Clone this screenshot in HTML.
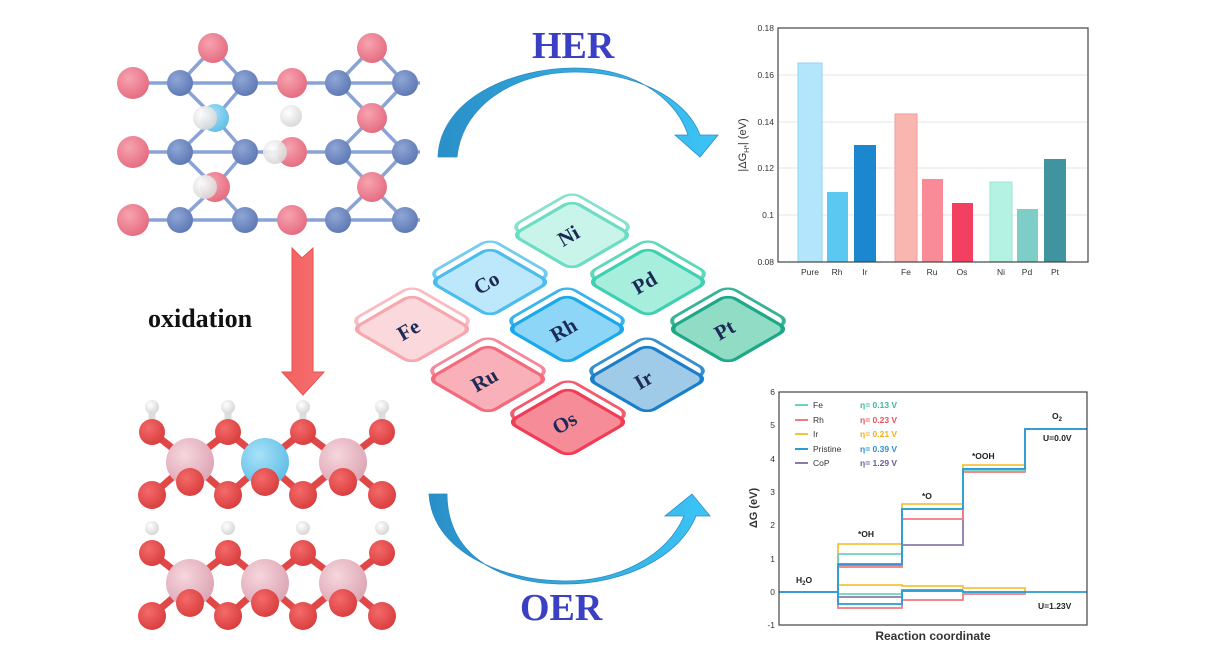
<!DOCTYPE html>
<html><head><meta charset="utf-8"><style>
html,body{margin:0;padding:0;background:#fff}
svg{display:block}
.sans{font-family:"Liberation Sans",sans-serif}
.ser{font-family:"Liberation Serif",serif;font-weight:bold}
</style></head><body>
<svg width="1218" height="659" viewBox="0 0 1218 659" xmlns="http://www.w3.org/2000/svg">
<defs>
<radialGradient id="gp" cx="0.38" cy="0.35" r="0.7"><stop offset="0" stop-color="#f7a3b0"/><stop offset="1" stop-color="#e46a7e"/></radialGradient>
<radialGradient id="gb" cx="0.38" cy="0.35" r="0.7"><stop offset="0" stop-color="#8fa6d6"/><stop offset="1" stop-color="#5c77b3"/></radialGradient>
<radialGradient id="gc" cx="0.38" cy="0.35" r="0.7"><stop offset="0" stop-color="#a8e2f8"/><stop offset="1" stop-color="#5fbde6"/></radialGradient>
<radialGradient id="gw" cx="0.38" cy="0.35" r="0.7"><stop offset="0" stop-color="#ffffff"/><stop offset="1" stop-color="#d4d4d4"/></radialGradient>
<radialGradient id="gr" cx="0.38" cy="0.35" r="0.7"><stop offset="0" stop-color="#f46a6a"/><stop offset="1" stop-color="#d83c3c"/></radialGradient>
<radialGradient id="gl" cx="0.38" cy="0.35" r="0.7"><stop offset="0" stop-color="#f6d6de"/><stop offset="1" stop-color="#dca4b2"/></radialGradient>
<linearGradient id="ab" x1="0" y1="0" x2="1" y2="0"><stop offset="0" stop-color="#2a8fc8"/><stop offset="1" stop-color="#3cc4f6"/></linearGradient>
<linearGradient id="ar" x1="0" y1="0" x2="1" y2="0"><stop offset="0" stop-color="#f36060"/><stop offset="1" stop-color="#f57070"/></linearGradient>
</defs>

<g stroke="#8aa3d6" stroke-width="3.5">
<line x1="118" y1="83" x2="420" y2="83"/><line x1="118" y1="152" x2="420" y2="152"/><line x1="118" y1="220" x2="420" y2="220"/>
<line x1="213" y1="48" x2="180" y2="83"/><line x1="213" y1="48" x2="245" y2="83"/>
<line x1="372" y1="48" x2="338" y2="83"/><line x1="372" y1="48" x2="405" y2="83"/>
<line x1="215" y1="118" x2="180" y2="83"/><line x1="215" y1="118" x2="245" y2="83"/><line x1="215" y1="118" x2="180" y2="152"/><line x1="215" y1="118" x2="245" y2="152"/>
<line x1="372" y1="118" x2="338" y2="83"/><line x1="372" y1="118" x2="405" y2="83"/><line x1="372" y1="118" x2="338" y2="152"/><line x1="372" y1="118" x2="405" y2="152"/>
<line x1="215" y1="187" x2="180" y2="152"/><line x1="215" y1="187" x2="245" y2="152"/><line x1="215" y1="187" x2="180" y2="220"/><line x1="215" y1="187" x2="245" y2="220"/>
<line x1="372" y1="187" x2="338" y2="152"/><line x1="372" y1="187" x2="405" y2="152"/><line x1="372" y1="187" x2="338" y2="220"/><line x1="372" y1="187" x2="405" y2="220"/>
<line x1="213" y1="48" x2="204" y2="38"/><line x1="213" y1="48" x2="222" y2="38"/><line x1="372" y1="48" x2="363" y2="38"/><line x1="372" y1="48" x2="381" y2="38"/>
<line x1="180" y1="220" x2="188" y2="229"/><line x1="338" y1="220" x2="346" y2="229"/><line x1="405" y1="220" x2="397" y2="229"/>
</g>
<g>
<circle cx="213" cy="48" r="15" fill="url(#gp)"/><circle cx="372" cy="48" r="15" fill="url(#gp)"/>
<circle cx="133" cy="83" r="16" fill="url(#gp)"/><circle cx="180" cy="83" r="13" fill="url(#gb)"/><circle cx="245" cy="83" r="13" fill="url(#gb)"/><circle cx="292" cy="83" r="15" fill="url(#gp)"/><circle cx="338" cy="83" r="13" fill="url(#gb)"/><circle cx="405" cy="83" r="13" fill="url(#gb)"/>
<circle cx="215" cy="118" r="14" fill="url(#gc)"/><circle cx="372" cy="118" r="15" fill="url(#gp)"/>
<circle cx="133" cy="152" r="16" fill="url(#gp)"/><circle cx="180" cy="152" r="13" fill="url(#gb)"/><circle cx="245" cy="152" r="13" fill="url(#gb)"/><circle cx="292" cy="152" r="15" fill="url(#gp)"/><circle cx="338" cy="152" r="13" fill="url(#gb)"/><circle cx="405" cy="152" r="13" fill="url(#gb)"/>
<circle cx="215" cy="187" r="15" fill="url(#gp)"/><circle cx="372" cy="187" r="15" fill="url(#gp)"/>
<circle cx="133" cy="220" r="16" fill="url(#gp)"/><circle cx="180" cy="220" r="13" fill="url(#gb)"/><circle cx="245" cy="220" r="13" fill="url(#gb)"/><circle cx="292" cy="220" r="15" fill="url(#gp)"/><circle cx="338" cy="220" r="13" fill="url(#gb)"/><circle cx="405" cy="220" r="13" fill="url(#gb)"/>
<circle cx="205" cy="118" r="12" fill="url(#gw)" opacity="0.92"/><circle cx="291" cy="116" r="11" fill="url(#gw)" opacity="0.92"/><circle cx="275" cy="152" r="12" fill="url(#gw)" opacity="0.92"/><circle cx="205" cy="187" r="12" fill="url(#gw)" opacity="0.92"/>
</g>

<path d="M292,248 L302,258 L313,248 L313,372 L324,372 L303,395 L282,372 L292,372 Z" fill="url(#ar)" stroke="#e85050" stroke-width="1"/>
<text x="148" y="327" class="ser" font-size="26" fill="#111">oxidation</text>

<g>
<g stroke="#e04848" stroke-width="7">
<line x1="152" y1="432" x2="190" y2="462"/><line x1="228" y1="432" x2="190" y2="462"/><line x1="228" y1="432" x2="265" y2="462"/><line x1="303" y1="432" x2="265" y2="462"/><line x1="303" y1="432" x2="343" y2="462"/><line x1="382" y1="432" x2="343" y2="462"/>
<line x1="152" y1="495" x2="190" y2="462"/><line x1="228" y1="495" x2="190" y2="462"/><line x1="228" y1="495" x2="265" y2="462"/><line x1="303" y1="495" x2="265" y2="462"/><line x1="303" y1="495" x2="343" y2="462"/><line x1="382" y1="495" x2="343" y2="462"/>
<line x1="152" y1="407" x2="152" y2="432" stroke="#ddd"/><line x1="228" y1="407" x2="228" y2="432" stroke="#ddd"/><line x1="303" y1="407" x2="303" y2="432" stroke="#ddd"/><line x1="382" y1="407" x2="382" y2="432" stroke="#ddd"/>
</g>
<circle cx="152" cy="407" r="7" fill="url(#gw)"/><circle cx="228" cy="407" r="7" fill="url(#gw)"/><circle cx="303" cy="407" r="7" fill="url(#gw)"/><circle cx="382" cy="407" r="7" fill="url(#gw)"/>
<circle cx="152" cy="432" r="13" fill="url(#gr)"/><circle cx="228" cy="432" r="13" fill="url(#gr)"/><circle cx="303" cy="432" r="13" fill="url(#gr)"/><circle cx="382" cy="432" r="13" fill="url(#gr)"/>
<circle cx="190" cy="462" r="24" fill="url(#gl)"/><circle cx="265" cy="462" r="24" fill="url(#gc)"/><circle cx="343" cy="462" r="24" fill="url(#gl)"/>
<circle cx="152" cy="495" r="14" fill="url(#gr)"/><circle cx="228" cy="495" r="14" fill="url(#gr)"/><circle cx="303" cy="495" r="14" fill="url(#gr)"/><circle cx="382" cy="495" r="14" fill="url(#gr)"/>
<circle cx="190" cy="482" r="14" fill="url(#gr)"/><circle cx="265" cy="482" r="14" fill="url(#gr)"/><circle cx="343" cy="482" r="14" fill="url(#gr)"/>
</g>
<g transform="translate(0,121)">
<g stroke="#e04848" stroke-width="7">
<line x1="152" y1="432" x2="190" y2="462"/><line x1="228" y1="432" x2="190" y2="462"/><line x1="228" y1="432" x2="265" y2="462"/><line x1="303" y1="432" x2="265" y2="462"/><line x1="303" y1="432" x2="343" y2="462"/><line x1="382" y1="432" x2="343" y2="462"/>
<line x1="152" y1="495" x2="190" y2="462"/><line x1="228" y1="495" x2="190" y2="462"/><line x1="228" y1="495" x2="265" y2="462"/><line x1="303" y1="495" x2="265" y2="462"/><line x1="303" y1="495" x2="343" y2="462"/><line x1="382" y1="495" x2="343" y2="462"/>
</g>
<circle cx="152" cy="407" r="7" fill="url(#gw)"/><circle cx="228" cy="407" r="7" fill="url(#gw)"/><circle cx="303" cy="407" r="7" fill="url(#gw)"/><circle cx="382" cy="407" r="7" fill="url(#gw)"/>
<circle cx="152" cy="432" r="13" fill="url(#gr)"/><circle cx="228" cy="432" r="13" fill="url(#gr)"/><circle cx="303" cy="432" r="13" fill="url(#gr)"/><circle cx="382" cy="432" r="13" fill="url(#gr)"/>
<circle cx="190" cy="462" r="24" fill="url(#gl)"/><circle cx="265" cy="462" r="24" fill="url(#gl)"/><circle cx="343" cy="462" r="24" fill="url(#gl)"/>
<circle cx="152" cy="495" r="14" fill="url(#gr)"/><circle cx="228" cy="495" r="14" fill="url(#gr)"/><circle cx="303" cy="495" r="14" fill="url(#gr)"/><circle cx="382" cy="495" r="14" fill="url(#gr)"/>
<circle cx="190" cy="482" r="14" fill="url(#gr)"/><circle cx="265" cy="482" r="14" fill="url(#gr)"/><circle cx="343" cy="482" r="14" fill="url(#gr)"/>
</g>

<text x="532" y="58" class="ser" font-size="38" fill="#3a3fc4">HER</text>
<path d="M438,157 C440,100 510,68 575,68 C630,68 675,95 688,135 L675,135 L700,157 L718,135 L700,135 C685,95 630,72 575,72 C515,72 462,105 457,157 Z" fill="url(#ab)" stroke="#2b8cc6" stroke-width="0.8"/>
<text x="520" y="620" class="ser" font-size="38" fill="#3a3fc4">OER</text>
<path d="M429,494 C432,550 500,581 565,581 C620,581 668,555 684,516 L665,516 L692,494 L710,516 L696,516 C678,560 620,584 565,584 C495,584 447,552 447,494 Z" fill="url(#ab)" stroke="#2b8cc6" stroke-width="0.8"/>

<g class="ser" font-size="21" fill="#1d2a55" text-anchor="middle">
<g transform="translate(572,233)"><g transform="translate(0,-6) scale(1,0.58) rotate(45)"><rect x="-43" y="-43" width="86" height="86" rx="12" fill="#fff" stroke="#86e2cf" stroke-width="4"/></g><g transform="translate(0,2) scale(1,0.58) rotate(45)"><rect x="-42" y="-42" width="84" height="84" rx="11" fill="#c9f4ea" stroke="#6ddcc4" stroke-width="4.5"/></g><text transform="translate(0,9) rotate(-30)">Ni</text></g>
<g transform="translate(490,280)"><g transform="translate(0,-6) scale(1,0.58) rotate(45)"><rect x="-43" y="-43" width="86" height="86" rx="12" fill="#fff" stroke="#74ccf3" stroke-width="4"/></g><g transform="translate(0,2) scale(1,0.58) rotate(45)"><rect x="-42" y="-42" width="84" height="84" rx="11" fill="#bde8fb" stroke="#4bbcf0" stroke-width="4.5"/></g><text transform="translate(0,9) rotate(-30)">Co</text></g>
<g transform="translate(648,280)"><g transform="translate(0,-6) scale(1,0.58) rotate(45)"><rect x="-43" y="-43" width="86" height="86" rx="12" fill="#fff" stroke="#5cd8bb" stroke-width="4"/></g><g transform="translate(0,2) scale(1,0.58) rotate(45)"><rect x="-42" y="-42" width="84" height="84" rx="11" fill="#a8eedd" stroke="#3ed0b0" stroke-width="4.5"/></g><text transform="translate(0,9) rotate(-30)">Pd</text></g>
<g transform="translate(412,327)"><g transform="translate(0,-6) scale(1,0.58) rotate(45)"><rect x="-43" y="-43" width="86" height="86" rx="12" fill="#fff" stroke="#f8bcc2" stroke-width="4"/></g><g transform="translate(0,2) scale(1,0.58) rotate(45)"><rect x="-42" y="-42" width="84" height="84" rx="11" fill="#fbd8dc" stroke="#f7a7ae" stroke-width="4.5"/></g><text transform="translate(0,9) rotate(-30)">Fe</text></g>
<g transform="translate(567,327)"><g transform="translate(0,-6) scale(1,0.58) rotate(45)"><rect x="-43" y="-43" width="86" height="86" rx="12" fill="#fff" stroke="#3ab4ee" stroke-width="4"/></g><g transform="translate(0,2) scale(1,0.58) rotate(45)"><rect x="-42" y="-42" width="84" height="84" rx="11" fill="#8dd6f7" stroke="#1aa8ec" stroke-width="4.5"/></g><text transform="translate(0,9) rotate(-30)">Rh</text></g>
<g transform="translate(728,327)"><g transform="translate(0,-6) scale(1,0.58) rotate(45)"><rect x="-43" y="-43" width="86" height="86" rx="12" fill="#fff" stroke="#36b498" stroke-width="4"/></g><g transform="translate(0,2) scale(1,0.58) rotate(45)"><rect x="-42" y="-42" width="84" height="84" rx="11" fill="#90dcc4" stroke="#1ea888" stroke-width="4.5"/></g><text transform="translate(0,9) rotate(-30)">Pt</text></g>
<g transform="translate(488,377)"><g transform="translate(0,-6) scale(1,0.58) rotate(45)"><rect x="-43" y="-43" width="86" height="86" rx="12" fill="#fff" stroke="#f5889a" stroke-width="4"/></g><g transform="translate(0,2) scale(1,0.58) rotate(45)"><rect x="-42" y="-42" width="84" height="84" rx="11" fill="#f9b0b8" stroke="#f26b7c" stroke-width="4.5"/></g><text transform="translate(0,9) rotate(-30)">Ru</text></g>
<g transform="translate(647,377)"><g transform="translate(0,-6) scale(1,0.58) rotate(45)"><rect x="-43" y="-43" width="86" height="86" rx="12" fill="#fff" stroke="#3490d0" stroke-width="4"/></g><g transform="translate(0,2) scale(1,0.58) rotate(45)"><rect x="-42" y="-42" width="84" height="84" rx="11" fill="#a0cbe8" stroke="#1a7fc8" stroke-width="4.5"/></g><text transform="translate(0,9) rotate(-30)">Ir</text></g>
<g transform="translate(568,420)"><g transform="translate(0,-6) scale(1,0.58) rotate(45)"><rect x="-43" y="-43" width="86" height="86" rx="12" fill="#fff" stroke="#f45a6e" stroke-width="4"/></g><g transform="translate(0,2) scale(1,0.58) rotate(45)"><rect x="-42" y="-42" width="84" height="84" rx="11" fill="#f78c99" stroke="#f03c55" stroke-width="4.5"/></g><text transform="translate(0,9) rotate(-30)">Os</text></g>
</g>

<g class="sans" font-size="8.5" fill="#333">
<g stroke="#e6e6e6" stroke-width="1"><line x1="779" y1="75" x2="1087" y2="75"/><line x1="779" y1="122" x2="1087" y2="122"/><line x1="779" y1="168" x2="1087" y2="168"/><line x1="779" y1="215" x2="1087" y2="215"/></g>
<rect x="798" y="63" width="24" height="199" fill="#b3e5fb" stroke="#8fd4f2"/>
<rect x="827" y="192" width="21" height="70" fill="#5bc8f2"/>
<rect x="854" y="145" width="22" height="117" fill="#1a87cf"/>
<rect x="895" y="114" width="22" height="148" fill="#f9b6b0" stroke="#f29a94"/>
<rect x="922" y="179" width="21" height="83" fill="#f98b98"/>
<rect x="952" y="203" width="21" height="59" fill="#f44060"/>
<rect x="990" y="182" width="22" height="80" fill="#b4f2e4" stroke="#9ee6d4"/>
<rect x="1017" y="209" width="21" height="53" fill="#7ecdc6"/>
<rect x="1044" y="159" width="22" height="103" fill="#3f94a0"/>
<rect x="778" y="28" width="310" height="234" fill="none" stroke="#444" stroke-width="1.2"/>
<g text-anchor="end"><text x="774" y="31">0.18</text><text x="774" y="78">0.16</text><text x="774" y="125">0.14</text><text x="774" y="171">0.12</text><text x="774" y="218">0.1</text><text x="774" y="265">0.08</text></g>
<g text-anchor="middle"><text x="810" y="275">Pure</text><text x="837" y="275">Rh</text><text x="865" y="275">Ir</text><text x="906" y="275">Fe</text><text x="932" y="275">Ru</text><text x="962" y="275">Os</text><text x="1001" y="275">Ni</text><text x="1027" y="275">Pd</text><text x="1055" y="275">Pt</text></g>
<text transform="translate(746,145) rotate(-90)" text-anchor="middle" font-size="11">|ΔG<tspan font-size="7" dy="3">H*</tspan><tspan dy="-3">|  (eV)</tspan></text>
</g>

<g class="sans" font-size="8.5" fill="#333">
<g fill="none" stroke-width="1.8">
<polyline stroke="#8a7ca8" points="779,592 838,592 838,565 902,565 902,545 963,545 963,469 1025,469 1025,429 1087,429"/>
<polyline stroke="#8a7ca8" points="838,592 838,597 902,597 902,590 963,590"/>
<polyline stroke="#f5c33b" points="838,592 838,544 902,544 902,504 963,504 963,465 1025,465 1025,429"/>
<polyline stroke="#f5c33b" points="838,592 838,585 902,585 902,586 963,586 963,588 1025,588 1025,592"/>
<polyline stroke="#f27a80" points="838,592 838,567 902,567 902,519 963,519 963,472 1025,472 1025,429"/>
<polyline stroke="#f27a80" points="838,592 838,608 902,608 902,600 963,600 963,594 1025,594 1025,592"/>
<polyline stroke="#6dd3c0" points="838,592 838,554 902,554 902,509 963,509 963,470 1025,470 1025,429"/>
<polyline stroke="#6dd3c0" points="838,592 838,594 902,594 902,591 963,591 963,592 1025,592"/>
<polyline stroke="#2a9bd6" points="838,592 838,604 902,604 902,591 963,591 963,592 1025,592"/>
<polyline stroke="#2a9bd6" points="779,592 838,592 838,564 902,564 902,509 963,509 963,469 1025,469 1025,429 1087,429"/>
<line x1="1025" y1="592" x2="1087" y2="592" stroke="#2a9bd6"/>
</g>
<rect x="779" y="392" width="308" height="233" fill="none" stroke="#444" stroke-width="1.2"/>
<g text-anchor="end"><text x="775" y="395">6</text><text x="775" y="428">5</text><text x="775" y="462">4</text><text x="775" y="495">3</text><text x="775" y="528">2</text><text x="775" y="562">1</text><text x="775" y="595">0</text><text x="775" y="628">-1</text></g>
<g stroke-width="2"><line x1="795" y1="405" x2="808" y2="405" stroke="#6dd3c0"/><line x1="795" y1="420" x2="808" y2="420" stroke="#f27a80"/><line x1="795" y1="434" x2="808" y2="434" stroke="#f5c33b"/><line x1="795" y1="449" x2="808" y2="449" stroke="#2a9bd6"/><line x1="795" y1="463" x2="808" y2="463" stroke="#8a7ca8"/></g>
<text x="813" y="408">Fe</text><text x="813" y="423">Rh</text><text x="813" y="437">Ir</text><text x="813" y="452">Pristine</text><text x="813" y="466">CoP</text>
<g font-weight="bold"><text x="860" y="408" fill="#3cb8a0">η= 0.13 V</text><text x="860" y="423" fill="#f0505a">η= 0.23 V</text><text x="860" y="437" fill="#eeb020">η= 0.21 V</text><text x="860" y="452" fill="#2a8fd0">η= 0.39 V</text><text x="860" y="466" fill="#6c5c98">η= 1.29 V</text></g>
<g font-weight="bold" fill="#222"><text x="858" y="537">*OH</text><text x="922" y="499">*O</text><text x="972" y="459">*OOH</text><text x="1052" y="419">O<tspan font-size="6" dy="2">2</tspan></text><text x="1043" y="441">U=0.0V</text><text x="796" y="583">H<tspan font-size="6" dy="2">2</tspan><tspan dy="-2">O</tspan></text><text x="1038" y="609">U=1.23V</text></g>
<text x="933" y="640" text-anchor="middle" font-weight="bold" font-size="12" fill="#333">Reaction coordinate</text>
<text transform="translate(757,508) rotate(-90)" text-anchor="middle" font-weight="bold" font-size="11">ΔG (eV)</text>
</g>
</svg>
</body></html>
